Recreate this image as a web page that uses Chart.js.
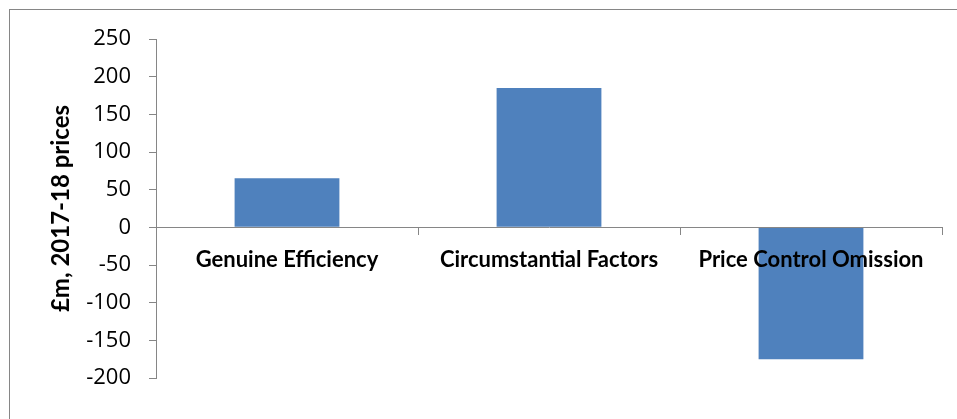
<!DOCTYPE html>
<html>
<head>
<meta charset="utf-8">
<script src="https://cdn.jsdelivr.net/npm/chart.js@4"></script>
<style>
  html, body { margin: 0; padding: 0; background: #ffffff; }
  #wrap { width: 957px; height: 419px; position: relative; }
</style>
</head>
<body>
<div id="wrap"><canvas id="chart"></canvas></div>
<script>
// Cost variance by driver (£m, 2017-18 prices)
const categories = ['Genuine Efficiency', 'Circumstantial Factors', 'Price Control Omission'];
const values = [65, 185, -175];
const yTicks = [250, 200, 150, 100, 50, 0, -50, -100, -150, -200];

const axisGrey = '#868686';
const barBlue = '#4F81BD';

// Light frame around the whole chart, open at the right and bottom edges
const framePlugin = {
  id: 'frame',
  beforeDraw(chart) {
    const ctx = chart.ctx;
    ctx.save();
    ctx.fillStyle = '#ffffff';
    ctx.fillRect(0, 0, chart.width, chart.height);
    ctx.strokeStyle = axisGrey;
    ctx.lineWidth = 1;
    ctx.strokeRect(9.5, 9.5, chart.width + 20, chart.height + 20);
    ctx.restore();
  }
};

new Chart(document.getElementById('chart'), {
  type: 'bar',
  data: {
    labels: categories,
    datasets: [{
      data: values,
      backgroundColor: barBlue,
      borderWidth: 0,
      categoryPercentage: 0.4,
      barPercentage: 1.0
    }]
  },
  options: {
    responsive: true,
    maintainAspectRatio: false,
    animation: false,
    layout: { padding: { top: 39, bottom: 41, right: 15, left: 0 } },
    plugins: { legend: { display: false }, tooltip: { enabled: false } },
    scales: {
      x: {
        position: { y: 0 },
        offset: true,
        grid: { drawOnChartArea: false, drawTicks: true, tickLength: 7, color: axisGrey, offset: true, z: 1 },
        border: { color: axisGrey, width: 1, z: 1 },
        ticks: {
          color: '#000000',
          padding: 12,
          maxRotation: 0,
          autoSkip: false,
          z: 1,
          font: { family: 'Lato', size: 22, weight: 'bold' }
        },
        afterFit(scale) { scale.height = 0; }
      },
      y: {
        min: -200,
        max: 250,
        afterBuildTicks(scale) { scale.ticks = yTicks.map(v => ({ value: v })); },
        grid: { drawOnChartArea: false, drawTicks: true, tickLength: 7, color: axisGrey },
        border: { color: axisGrey, width: 1 },
        ticks: {
          color: '#000000',
          padding: 18,
          font: { family: 'Open Sans', size: 22 }
        },
        title: {
          display: true,
          text: '£m, 2017-18 prices',
          color: '#000000',
          padding: { top: 47, bottom: 0 },
          font: { family: 'Lato', size: 24, weight: 'bold' }
        },
        afterFit(scale) { scale.width = 156; }
      }
    }
  },
  plugins: [framePlugin]
});
</script>
</body>
</html>
